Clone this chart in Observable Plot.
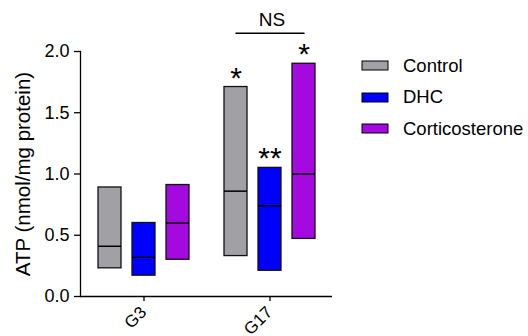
<!DOCTYPE html>
<html><head><meta charset="utf-8">
<script src="https://cdn.jsdelivr.net/npm/d3@7"></script>
<script src="https://cdn.jsdelivr.net/npm/@observablehq/plot@0.6"></script>
<style>
html,body{margin:0;padding:0;background:#fff;}
#wrap{position:relative;width:528px;height:336px;overflow:hidden;font-family:"Liberation Sans",Arial,sans-serif;}
#legend{position:absolute;left:362px;top:50px;}
#legend .leg-swatch{display:flex;align-items:center;height:31.5px;margin:0;padding:0;font-size:18.5px;color:#000;font-family:"Liberation Sans",Arial,sans-serif;}
#legend .leg-swatch svg{overflow:visible;margin-right:15px;}
#legend .leg-swatch svg rect{stroke:#000;stroke-width:1px;}
</style></head><body><div id="wrap"><div id="legend"></div></div>
<script>
const groups = ["G3", "G17"];
const series = ["Control", "DHC", "Corticosterone"];
const colors = ["#a0a0a5", "#0000ff", "#a40ae0"];
const yTicks = [0, 0.5, 1.0, 1.5, 2.0];
const yLabel = "ATP (nmol/mg protein)";
const centerSeries = "DHC"; // middle box marks each group's tick

// per series (Control, DHC, Corticosterone)
const minG3 = [0.23, 0.17, 0.30];
const medG3 = [0.41, 0.32, 0.60];
const maxG3 = [0.89, 0.60, 0.91];
const minG17 = [0.33, 0.21, 0.47];
const medG17 = [0.86, 0.74, 1.00];
const maxG17 = [1.71, 1.05, 1.90];

const starGroup = ["G17", "G17", "G17"];
const starSeries = ["Control", "DHC", "Corticosterone"];
const starLabels = ["*", "**", "*"];

const nsGroup = "G17";
const nsFrom = "Control";
const nsTo = "Corticosterone";
const nsMid = "DHC";
const nsLabel = "NS";
const nsValue = 2.15;

const rows = [];
series.forEach((s, i) => {
  rows.push({group: "G3", series: s, min: minG3[i], med: medG3[i], max: maxG3[i]});
  rows.push({group: "G17", series: s, min: minG17[i], med: medG17[i], max: maxG17[i]});
});
const stars = starLabels.map((l, i) => {
  const r = rows.find(d => d.group === starGroup[i] && d.series === starSeries[i]);
  return {group: starGroup[i], series: starSeries[i], y: r.max, label: l};
});
const nsLine = [
  {group: nsGroup, series: nsFrom, y: nsValue},
  {group: nsGroup, series: nsTo, y: nsValue}
];
const nsText = [{group: nsGroup, series: nsMid, y: nsValue, label: nsLabel}];
const groupTicks = groups.map(g => ({group: g, series: centerSeries}));

const plot = Plot.plot({
  width: 528, height: 336,
  marginLeft: 80, marginRight: 195.7, marginTop: 51, marginBottom: 40,
  style: {fontFamily: "Liberation Sans, Arial, sans-serif", fontSize: "18px", color: "#000", background: "#fff", overflow: "visible"},
  fx: {domain: groups, padding: 0, label: null},
  x: {domain: series, paddingInner: 0.33, paddingOuter: 0.504, axis: null},
  y: {domain: [0, 2]},
  color: {domain: series, range: colors},
  marks: [
    Plot.axisY({ticks: yTicks, tickFormat: ".1f", tickSize: 6, tickPadding: 5, label: null, fontSize: 18, strokeWidth: 1.3}),
    Plot.axisY({ticks: [], label: yLabel, labelAnchor: "center", labelArrow: "none", labelOffset: 65, fontSize: 20.5}),
    Plot.axisFx({anchor: "bottom", tickRotate: -45, tickSize: 0, tickPadding: 13, label: null, fontSize: 17}),
    Plot.frame({anchor: "left", facetAnchor: "left", stroke: "#000", strokeWidth: 1.3}),
    Plot.ruleY([0], {stroke: "#000", strokeWidth: 1.3}),
    Plot.ruleX(groupTicks, {fx: "group", x: "series", y1: 0, y2: 0, insetBottom: -5, stroke: "#000", strokeWidth: 1.3}),
    Plot.barY(rows, {fx: "group", x: "series", y1: "min", y2: "max", fill: "series", stroke: "#111", strokeWidth: 1.3}),
    Plot.tickY(rows, {fx: "group", x: "series", y: "med", stroke: "#000", strokeWidth: 1.5}),
    Plot.text(stars, {fx: "group", x: "series", y: "y", text: "label", fontSize: 30, dy: -9}),
    Plot.line(nsLine, {fx: "group", x: "series", y: "y", stroke: "#000", strokeWidth: 1.5}),
    Plot.text(nsText, {fx: "group", x: "series", y: "y", text: "label", fontSize: 19, dy: -13, dx: 2})
  ]
});
document.getElementById("wrap").prepend(plot);

const legend = Plot.legend({color: plot.scale("color"), legend: "swatches", columns: 1,
  swatchWidth: 26, swatchHeight: 9, className: "leg"});
document.getElementById("legend").appendChild(legend);
</script>
</body></html>
